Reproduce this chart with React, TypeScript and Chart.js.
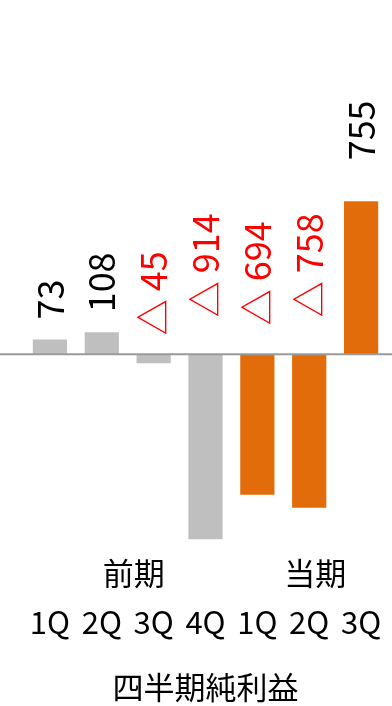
import React, { useEffect, useRef } from "react";
import { Chart, registerables } from "chart.js";

Chart.register(...registerables);

// ---- data ----
const categories = ["1Q", "2Q", "3Q", "4Q", "1Q", "2Q", "3Q"];
const netIncome = [73, 108, -45, -914, -694, -758, 755];
const valueLabels = ["73", "108", "△ 45", "△ 914", "△ 694", "△ 758", "755"];
const periodIsCurrent = [false, false, false, false, true, true, true];
const groupLabels = ["前期", "当期"];
const groupFirst = [0, 4];
const groupLast = [3, 6];
const titleText = "四半期純利益";

// ---- style / layout ----
const FONT = '"Noto Sans CJK JP", "Noto Sans", sans-serif';
const GRAY = "#BFBFBF";
const ORANGE = "#E36C0A";
const labelGap = [20, 20, 19, 37, 29, 37, 41];

const overlay = {
  id: "overlay",
  afterDatasetsDraw(chart: any) {
    const { ctx, chartArea } = chart;
    const x = chart.scales.x;
    const y = chart.scales.y;
    const y0 = y.getPixelForValue(0);
    ctx.save();
    ctx.strokeStyle = "#9a9a9a";
    ctx.lineWidth = 2;
    ctx.beginPath();
    ctx.moveTo(0, y0);
    ctx.lineTo(chart.width, y0);
    ctx.stroke();

    ctx.font = `36px ${FONT}`;
    netIncome.forEach((v, i) => {
      const px = x.getPixelForValue(i);
      const base = v >= 0 ? y.getPixelForValue(v) : y0;
      ctx.save();
      ctx.translate(px, base - labelGap[i]);
      ctx.rotate(-Math.PI / 2);
      ctx.fillStyle = v < 0 ? "#FF0000" : "#000000";
      ctx.textAlign = "left";
      ctx.textBaseline = "middle";
      ctx.fillText(valueLabels[i], 0, 0);
      ctx.restore();
    });

    ctx.font = `31px ${FONT}`;
    ctx.fillStyle = "#000000";
    ctx.textAlign = "center";
    ctx.textBaseline = "middle";
    groupLabels.forEach((g, k) => {
      const cx =
        (x.getPixelForValue(groupFirst[k]) + x.getPixelForValue(groupLast[k])) / 2 + 6;
      ctx.fillText(g, cx, chartArea.bottom + 25);
    });
    ctx.restore();
  },
};

export default function App() {
  const canvasRef = useRef<HTMLCanvasElement | null>(null);

  useEffect(() => {
    if (!canvasRef.current) return;
    const chart = new Chart(canvasRef.current, {
      type: "bar",
      data: {
        labels: categories,
        datasets: [
          {
            data: netIncome,
            backgroundColor: periodIsCurrent.map((c) => (c ? ORANGE : GRAY)),
            borderWidth: 0,
            categoryPercentage: 1,
            barPercentage: 0.66,
          },
        ],
      },
      options: {
        animation: false,
        responsive: true,
        maintainAspectRatio: false,
        layout: { padding: { top: 10, left: 24, right: 5, bottom: 0 } },
        plugins: {
          legend: { display: false },
          tooltip: { enabled: false },
          title: {
            display: true,
            text: titleText,
            position: "bottom",
            color: "#000000",
            font: { family: FONT, size: 31, weight: "normal" },
            padding: { top: 28, bottom: 0 },
          },
        },
        scales: {
          x: {
            grid: {
              display: true,
              drawOnChartArea: false,
              drawTicks: true,
              tickLength: 55,
              color: "rgba(0,0,0,0)",
            },
            border: { display: false },
            ticks: {
              color: "#000000",
              font: { family: FONT, size: 31 },
              padding: 0,
              maxRotation: 0,
              minRotation: 0,
              autoSkip: false,
            },
          },
          y: {
            display: false,
            min: -960,
            max: 1700,
          },
        },
      },
      plugins: [overlay],
    });
    return () => chart.destroy();
  }, []);

  return (
    <div style={{ position: "fixed", left: 0, top: 0, width: "392px", height: "706px" }}>
      <canvas ref={canvasRef} />
    </div>
  );
}
